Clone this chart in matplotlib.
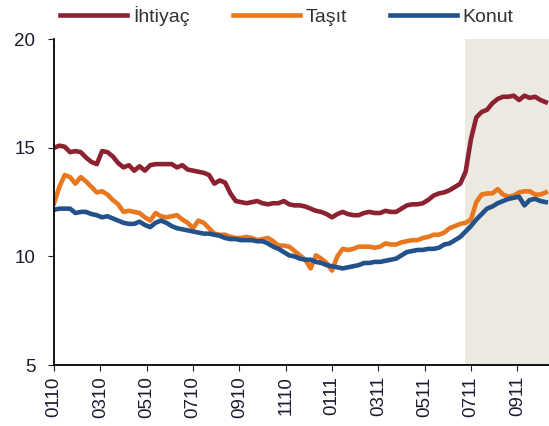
import numpy as np
import matplotlib
matplotlib.use("Agg")
import matplotlib.pyplot as plt

plt.rcParams['font.family'] = ['Liberation Sans', 'DejaVu Sans']

# haftalik veriler (okunan degerler)
ihtiyac = [15.0, 15.1, 15.05, 14.8, 14.85, 14.8, 14.55, 14.35, 14.25, 14.85,
           14.8, 14.6, 14.3, 14.1, 14.2, 13.95, 14.15, 13.95, 14.2, 14.25,
           14.25, 14.25, 14.25, 14.1, 14.2, 14.0, 13.95, 13.9, 13.85, 13.75,
           13.35, 13.5, 13.4, 12.9, 12.55, 12.5, 12.45, 12.5, 12.55, 12.45,
           12.4, 12.45, 12.45, 12.55, 12.4, 12.35, 12.35, 12.3, 12.2, 12.1,
           12.05, 11.95, 11.8, 11.95, 12.05, 11.95, 11.9, 11.9, 12.0, 12.05,
           12.0, 12.0, 12.1, 12.05, 12.05, 12.2, 12.35, 12.4, 12.4, 12.45,
           12.6, 12.8, 12.9, 12.95, 13.05, 13.2, 13.35, 13.9, 15.4, 16.4,
           16.65, 16.75, 17.05, 17.25, 17.35, 17.35, 17.4, 17.2, 17.4, 17.3,
           17.35, 17.2, 17.1]
tasit = [12.45, 13.2, 13.75, 13.65, 13.35, 13.65, 13.45, 13.2, 12.95, 13.0,
         12.85, 12.6, 12.4, 12.05, 12.1, 12.05, 12.0, 11.8, 11.65, 12.0,
         11.85, 11.8, 11.85, 11.9, 11.7, 11.55, 11.3, 11.65, 11.55, 11.3,
         11.05, 11.0, 11.0, 10.9, 10.85, 10.85, 10.9, 10.85, 10.75, 10.8,
         10.85, 10.7, 10.5, 10.5, 10.45, 10.25, 10.05, 9.85, 9.45, 10.05,
         9.9, 9.7, 9.35, 10.0, 10.35, 10.3, 10.35, 10.45, 10.45, 10.45,
         10.4, 10.45, 10.6, 10.55, 10.55, 10.65, 10.7, 10.75, 10.75, 10.85,
         10.9, 11.0, 11.0, 11.1, 11.3, 11.4, 11.5, 11.55, 11.7, 12.5,
         12.85, 12.9, 12.9, 13.1, 12.85, 12.75, 12.8, 12.95, 13.0, 13.0,
         12.85, 12.85, 12.95]
konut = [12.15, 12.2, 12.2, 12.2, 12.0, 12.05, 12.05, 11.95, 11.9, 11.8,
         11.85, 11.75, 11.65, 11.55, 11.5, 11.5, 11.6, 11.45, 11.35, 11.55,
         11.65, 11.55, 11.4, 11.3, 11.25, 11.2, 11.15, 11.1, 11.05, 11.05,
         11.0, 10.95, 10.85, 10.8, 10.8, 10.75, 10.75, 10.75, 10.7, 10.7,
         10.6, 10.45, 10.35, 10.2, 10.05, 10.0, 9.9, 9.85, 9.85, 9.75,
         9.7, 9.6, 9.55, 9.5, 9.45, 9.5, 9.55, 9.6, 9.7, 9.7,
         9.75, 9.75, 9.8, 9.85, 9.9, 10.05, 10.2, 10.25, 10.3, 10.3,
         10.35, 10.35, 10.4, 10.55, 10.6, 10.75, 10.9, 11.15, 11.4, 11.7,
         11.95, 12.2, 12.3, 12.45, 12.55, 12.65, 12.7, 12.75, 12.35, 12.6,
         12.65, 12.55, 12.5]
tick_labels = ['0110', '0310', '0510', '0710', '0910', '1110',
               '0111', '0311', '0511', '0711', '0911']

x = np.arange(len(ihtiyac))

fig = plt.figure(figsize=(5.49, 4.26), dpi=100)
ax = fig.add_axes([0.0984, 0.143, 0.9016, 0.765])

# golgeli alan
ax.axvspan(76.8, 93, color='#ECEAE0', lw=0, zorder=0)

ax.plot(x, ihtiyac, color='#8C2131', lw=3.3, label='İhtiyaç')
ax.plot(x, tasit, color='#E8771E', lw=3.3, label='Taşıt')
ax.plot(x, konut, color='#235189', lw=3.3, label='Konut')

ax.set_xlim(0, 92.6)
ax.set_ylim(5, 20)
ax.set_yticks([5, 10, 15, 20])
ax.set_xticks(np.arange(len(tick_labels)) * 52 / 6)
ax.set_xticklabels(tick_labels, rotation=90)
ax.tick_params(axis='both', labelsize=13.5, colors='#1c1c30', length=4, width=0.8)
ax.tick_params(axis='y', pad=9.5)
ax.tick_params(axis='x', pad=4)

for s in ['top', 'right']:
    ax.spines[s].set_visible(False)
ax.spines['left'].set_linewidth(1.3)
ax.spines['bottom'].set_linewidth(1.3)

fig.legend(loc='center', bbox_to_anchor=(0.523, 0.962), ncol=3, frameon=False,
           fontsize=14, handlelength=3.45, handletextpad=0.3, columnspacing=2.2,
           labelcolor='#333333')

plt.savefig('out.png', dpi=100)
